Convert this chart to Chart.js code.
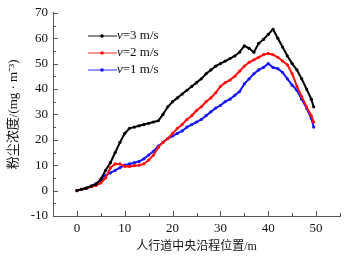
<!DOCTYPE html>
<html>
<head>
<meta charset="utf-8">
<script src="https://cdn.jsdelivr.net/npm/chart.js@4"></script>
<style>
  html, body { margin: 0; padding: 0; background: #fff; }
  #wrap { width: 348px; height: 257px; }
</style>
</head>
<body>
<div id="wrap"><canvas id="myChart" width="348" height="257"></canvas></div>
<script>
// distance along the sidewalk centre (m)
const distance = [0, 1, 2, 3, 4, 5, 6, 7, 8, 9, 10, 11, 12, 13, 14, 15, 16, 17, 18, 19,
    20, 21, 22, 23, 24, 25, 26, 27, 28, 29, 30, 31, 32, 33, 34, 35, 36, 37, 38, 39,
    40, 41, 42, 43, 44, 45, 46, 47, 48, 49, 49.5]

// dust concentration (mg/m3) per wind speed
const v3 = [0, 0.5, 1, 1.8, 2.5, 4.5, 8, 11, 15, 19, 22.5, 24.5, 25, 25.5, 26, 26.5, 27, 27.5, 30, 33,
    35, 36.5, 38, 39.5, 41, 42.5, 44, 46, 47.5, 49, 50, 51, 52, 53, 54.5, 57, 56, 54.5, 58, 59.5,
    61.5, 63.5, 60, 56.5, 53, 50, 47.5, 44, 40, 36, 33]
const v2 = [0, 0.5, 1, 1.5, 2, 3, 5, 9, 10.5, 10.5, 9.5, 9.5, 9.8, 10, 10.5, 12, 14, 17, 19, 20.5,
    22.5, 24.5, 26, 28, 29.5, 31.5, 33, 35, 36.5, 38.5, 41, 42.5, 43.5, 45, 47, 49, 50.5, 51.5, 52.5, 53.5,
    54, 53.5, 52.5, 51, 49.5, 46, 41, 37, 33, 29.5, 27]
const v1 = [0, 0.5, 1, 1.8, 2.8, 4, 6, 7, 8, 9, 10, 10.5, 11, 11.5, 12.5, 14, 15.5, 17.5, 19, 20.5,
    21.5, 22.5, 23.5, 25, 26, 27, 28, 29.5, 31, 32.5, 33.5, 35, 36, 37.5, 39, 42, 44, 46, 47.5, 48.5,
    50, 48.5, 48, 46.5, 44, 41.5, 39.5, 36, 32.5, 28.5, 25]

const seriesNames = ['=3 m/s', '=2 m/s', '=1 m/s']
const xTicks = [-5, 55, 10]   // min, max, step
const yTicks = [-10, 70, 10]

const serif = "'Liberation Serif', 'Noto Sans CJK SC', serif"

function toPoints(values){
    return values.map((y, i) => ({x: distance[i], y}))
}

// inward ticks, like the original plot
const innerTicks = {
    id: 'innerTicks',
    afterDraw(chart){
        const ctx = chart.ctx
        const xs = chart.scales.x, ys = chart.scales.y
        const area = chart.chartArea
        ctx.save()
        ctx.strokeStyle = '#555'
        ctx.lineWidth = 1
        ctx.beginPath()
        for (let v = xTicks[0]; v <= xTicks[1]; v += xTicks[2] / 2) {
            const px = Math.round(xs.getPixelForValue(v)) + 0.5
            const len = (v % xTicks[2] === 0) ? 5 : 3
            ctx.moveTo(px, area.bottom)
            ctx.lineTo(px, area.bottom - len)
        }
        for (let v = yTicks[0]; v <= yTicks[1]; v += yTicks[2] / 2) {
            const py = Math.round(ys.getPixelForValue(v)) + 0.5
            const len = (v % yTicks[2] === 0) ? 5 : 3
            ctx.moveTo(area.left, py)
            ctx.lineTo(area.left + len, py)
        }
        ctx.stroke()
        ctx.restore()
    }
}

// legend drawn inside the plot, top left
const innerLegend = {
    id: 'innerLegend',
    afterDraw(chart){
        const ctx = chart.ctx
        ctx.save()
        chart.data.datasets.forEach((ds, i) => {
            const y = 36 + i * 17
            ctx.globalAlpha = 0.45
            ctx.strokeStyle = ds.borderColor
            ctx.lineWidth = 2
            ctx.beginPath()
            ctx.moveTo(88, y)
            ctx.lineTo(117, y)
            ctx.stroke()
            ctx.globalAlpha = 1
            ctx.fillStyle = ds.borderColor
            ctx.beginPath()
            ctx.arc(102, y, 1.8, 0, Math.PI * 2)
            ctx.fill()
            ctx.fillStyle = '#111'
            ctx.textBaseline = 'middle'
            ctx.font = "italic 13px 'Liberation Serif', serif"
            ctx.fillText('v', 117, y)
            const w = ctx.measureText('v').width
            ctx.font = "13px 'Liberation Serif', serif"
            ctx.fillText(seriesNames[i], 117 + w, y)
        })
        ctx.restore()
    }
}

function line(label, values, color){
    return {
        label,
        data: toPoints(values),
        borderColor: color,
        backgroundColor: color,
        borderWidth: 2,
        pointRadius: 1.6,
        pointBorderWidth: 0,
        tension: 0
    }
}

const config = {
    type: 'line',
    data: {
        datasets: [
            line('v=3 m/s', v3, '#000000'),
            line('v=2 m/s', v2, '#ff1010'),
            line('v=1 m/s', v1, '#1515ff')
        ]
    },
    options: {
        responsive: false,
        animation: false,
        layout: {
            padding: {top: 12, right: 8, left: 0, bottom: 0}
        },
        plugins: {
            legend: {display: false},
            tooltip: {enabled: false}
        },
        scales: {
            x: {
                type: 'linear',
                min: xTicks[0],
                max: xTicks[1],
                afterBuildTicks: s => {
                    s.ticks = [0, 10, 20, 30, 40, 50].map(v => ({value: v}))
                },
                grid: {display: false, drawTicks: false, tickLength: 0},
                border: {display: true, color: '#555', width: 1},
                ticks: {color: '#111', padding: 5, maxRotation: 0, font: {family: serif, size: 13}},
                title: {
                    display: true,
                    text: '人行道中央沿程位置/m',
                    color: '#111',
                    font: {family: serif, size: 12},
                    padding: {top: 0, bottom: 3}
                },
                afterFit: s => { s.height = 41 }
            },
            y: {
                min: yTicks[0],
                max: yTicks[1],
                ticks: {stepSize: yTicks[2], color: '#111', padding: 5, font: {family: serif, size: 13}},
                grid: {display: false, drawTicks: false, tickLength: 0},
                border: {display: true, color: '#555', width: 1},
                title: {
                    display: true,
                    text: '粉尘浓度/(mg · m⁻³)',
                    color: '#111',
                    font: {family: serif, size: 13},
                    padding: {top: 6, bottom: 0}
                },
                afterFit: s => { s.width = 53 }
            }
        }
    },
    plugins: [innerTicks, innerLegend]
}

const myChart = new Chart(document.getElementById('myChart'), config)
</script>
</body>
</html>
